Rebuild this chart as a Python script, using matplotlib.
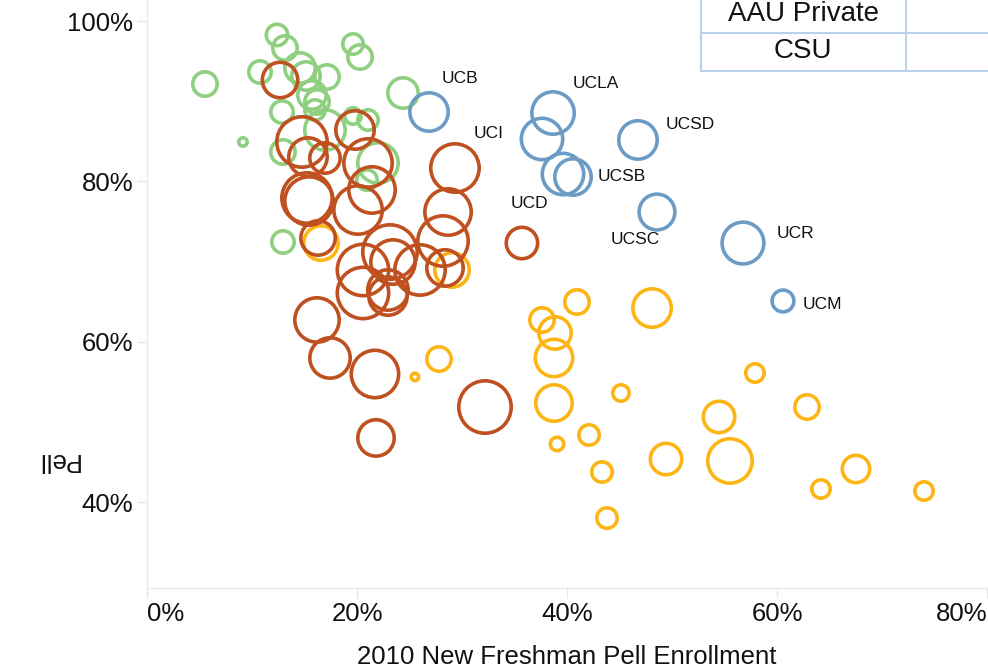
import matplotlib
matplotlib.use("Agg")
import matplotlib.pyplot as plt
from matplotlib.lines import Line2D
from matplotlib.ticker import FuncFormatter

# --- data: new freshman pell share (x), pell share (y), bubble size per school ---
uc_names = ["UCB", "UCLA", "UCI", "UCD", "UCSB", "UCSD", "UCSC", "UCR", "UCM"]
uc_x = [0.2686, 0.3867, 0.3762, 0.3962, 0.4057, 0.4676, 0.4857, 0.5676, 0.6057]
uc_y = [0.8866, 0.8853, 0.8529, 0.8092, 0.8055, 0.8517, 0.7618, 0.7231, 0.6508]
uc_size = [21, 23, 22.5, 22.5, 20, 21, 19.7, 22.7, 12.7]

aau_private_x = [0.0552, 0.1238, 0.1314, 0.1076, 0.1457, 0.1514, 0.1714, 0.1571,
                 0.1619, 0.1600, 0.1286, 0.1962, 0.2029, 0.2438, 0.0914, 0.1295,
                 0.1695, 0.1962, 0.2105, 0.2200, 0.2095, 0.1295]
aau_private_y = [0.9215, 0.9827, 0.9664, 0.9365, 0.9415, 0.9315, 0.9303, 0.9078,
                 0.8991, 0.8891, 0.8866, 0.9714, 0.9552, 0.9103, 0.8492, 0.8367,
                 0.8641, 0.8816, 0.8766, 0.8230, 0.8017, 0.7244]
aau_private_size = [14, 12.5, 14, 13, 17, 16, 14, 16, 14, 12, 13, 12, 14, 17, 6,
                    14, 22, 10, 12, 22, 12, 13]

aau_public_x = [0.1267, 0.1476, 0.1981, 0.1533, 0.1695, 0.2105, 0.2143, 0.1524,
                0.1543, 0.2010, 0.1629, 0.2933, 0.2867, 0.2819, 0.2314, 0.2343,
                0.2057, 0.2600, 0.2838, 0.2057, 0.2295, 0.2295, 0.1619, 0.1743,
                0.2171, 0.3219, 0.2181, 0.3571]
aau_public_y = [0.9265, 0.8492, 0.8641, 0.8304, 0.8292, 0.8230, 0.7893, 0.7793,
                0.7755, 0.7643, 0.7294, 0.8167, 0.7618, 0.7256, 0.7119, 0.6994,
                0.6895, 0.6895, 0.6920, 0.6608, 0.6645, 0.6570, 0.6271, 0.5797,
                0.5597, 0.5185, 0.4799, 0.7231]
aau_public_size = [19.5, 27, 21, 21, 17, 26, 25, 27, 26, 26, 19, 26, 25, 27, 29,
                   24, 27.5, 27, 20, 27.5, 22, 21, 24, 22, 25.5, 28, 20, 17.5]

csu_x = [0.4095, 0.3762, 0.3886, 0.3876, 0.3876, 0.4810, 0.2781, 0.2552, 0.3905,
         0.4210, 0.4514, 0.4333, 0.4381, 0.4943, 0.5448, 0.5552, 0.5790, 0.6286,
         0.6419, 0.6752, 0.7400, 0.2905, 0.1657]
csu_y = [0.6495, 0.6271, 0.6109, 0.5797, 0.5235, 0.6420, 0.5784, 0.5560, 0.4724,
         0.4836, 0.5360, 0.4374, 0.3800, 0.4536, 0.5061, 0.4512, 0.5609, 0.5185,
         0.4162, 0.4412, 0.4137, 0.6895, 0.7231]
csu_size = [14, 14, 18, 20.5, 20, 21, 14, 5.5, 8.5, 12, 10, 12, 12, 17.5, 17.5, 24,
            11, 14, 11, 15.5, 11, 19, 19]

legend_rows = ["AAU Private", "CSU"]

# label placement for UC campuses (offset in pixels from the bubble)
label_offsets = {"UCB": (31, 33), "UCLA": (43, 30), "UCI": (-53, 6),
                 "UCD": (-34, -29), "UCSB": (49, 0), "UCSD": (52, 15),
                 "UCSC": (-22, -27), "UCR": (52, 10), "UCM": (39, -4)}

plt.rcParams['font.family'] = ['Liberation Sans', 'DejaVu Sans']

W, H, DPI = 988, 668, 100
LW = 2.6


def marker_area(vals):
    """ velikost bubliny -> plocha markeru v pt^2 """
    out = []
    for v in vals:
        r_path = max(v - LW * DPI / 72 / 2, 1.5)
        out.append((2 * r_path * 72 / DPI) ** 2)
    return out


fig = plt.figure(figsize=(W / DPI, H / DPI), dpi=DPI)
ax = fig.add_axes([147 / W, 1 - 588 / H, 840 / W, 588 / H])

# poradi vrstev: zelena, zluta, cervena, modra
series = [
    (aau_private_x, aau_private_y, aau_private_size, "#8ED07F"),
    (csu_x, csu_y, csu_size, "#FDB515"),
    (aau_public_x, aau_public_y, aau_public_size, "#BF5020"),
    (uc_x, uc_y, uc_size, "#6C9CC6"),
]
for xs, ys, sz, col in series:
    ax.scatter(xs, ys, s=marker_area(sz), facecolors="none", edgecolors=col,
               linewidths=LW, clip_on=False)

for name, x, y in zip(uc_names, uc_x, uc_y):
    dx, dy = label_offsets[name]
    ax.annotate(name, (x, y), xytext=(dx, dy), textcoords="offset pixels",
                ha="center", va="center", fontsize=12.5, color="#111111")

ax.set_xlim(0, 0.80)
ax.set_ylim(0.40 - 86 / 801.5, 0.40 + 502 / 801.5)
ax.set_xticks([0, 0.2, 0.4, 0.6, 0.8])
ax.set_yticks([0.4, 0.6, 0.8, 1.0])
pct = FuncFormatter(lambda v, p: f"{v * 100:.0f}%")
ax.xaxis.set_major_formatter(pct)
ax.yaxis.set_major_formatter(pct)
ax.tick_params(axis="both", colors="#E6E6E6", labelcolor="#111111",
               labelsize=18.5, length=7, width=1, pad=3)
xlabels = ax.get_xticklabels()
xlabels[0].set_horizontalalignment("left")
xlabels[-1].set_horizontalalignment("right")

for side in ["top", "right"]:
    ax.spines[side].set_visible(False)
for side in ["left", "bottom"]:
    ax.spines[side].set_color("#EBEBEB")
    ax.spines[side].set_linewidth(1)

ax.set_xlabel("2010 New Freshman Pell Enrollment", fontsize=18.5,
              color="#111111", labelpad=14)
fig.text(57 / W, 1 - 460 / H, "Pell", rotation=180, fontsize=18.5,
         color="#111111", ha="center", va="center")

# tabulka legendy vpravo nahore
line_col = "#B9D1EA"
x0, x1, xc = 701 / W, 1.0, 906 / W
y_rows = [1 - 33 / H, 1 - 71 / H]
fig.add_artist(Line2D([x0, x0], [1, y_rows[-1]], color=line_col, lw=1.5))
fig.add_artist(Line2D([xc, xc], [1, y_rows[-1]], color=line_col, lw=1.5))
for yr in y_rows:
    fig.add_artist(Line2D([x0, x1], [yr, yr], color=line_col, lw=1.5))
for i, txt in enumerate(legend_rows):
    fig.text(803 / W, 1 - (14 + 37 * i) / H, txt, fontsize=20,
             color="#111111", ha="center", va="center")

fig.savefig("out.png", dpi=DPI)
plt.close(fig)
